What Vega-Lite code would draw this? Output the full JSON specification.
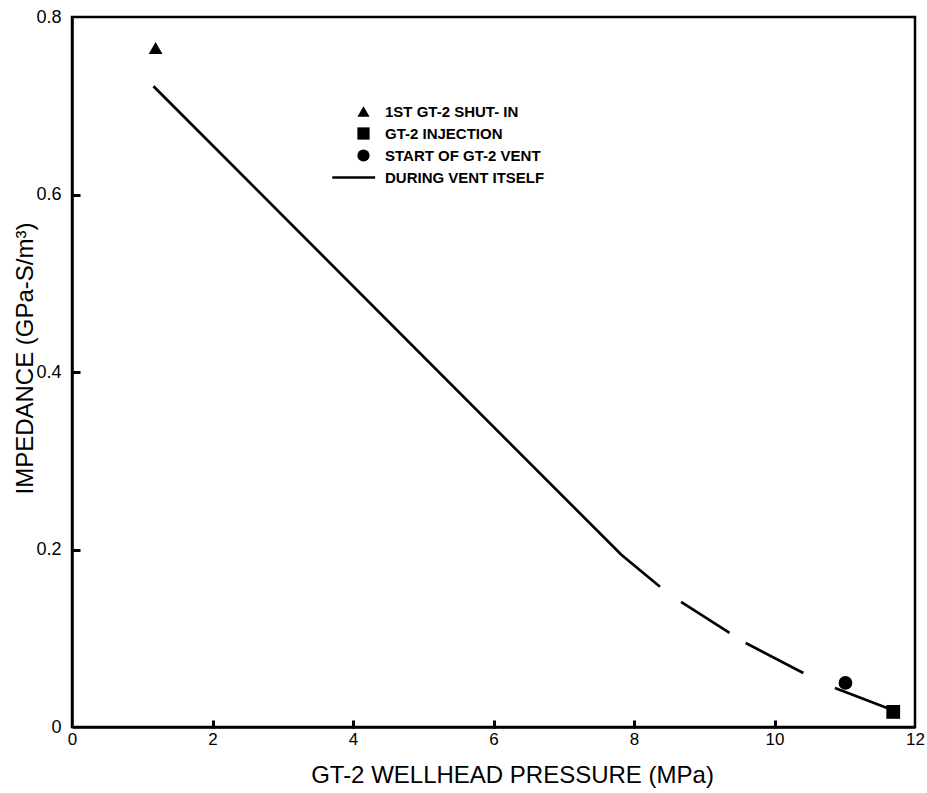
{
  "$schema": "https://vega.github.io/schema/vega-lite/v6.json",
  "width": 843,
  "height": 710,
  "autosize": {"type": "none"},
  "padding": {"left": 72, "top": 17, "right": 12, "bottom": 66},
  "background": "white",
  "config": {
    "font": "Liberation Sans",
    "view": {"stroke": "black", "strokeWidth": 2.5},
    "axis": {"grid": false, "domainColor": "black", "domainWidth": 2.5, "tickColor": "black", "tickWidth": 2.5, "labelColor": "black", "titleColor": "black", "labelFont": "Liberation Sans", "titleFont": "Liberation Sans", "titleFontWeight": "normal"}
  },
  "datasets": {
    "vent": [
      {"pressure": 1.16, "impedance": 0.722, "seg": 1},
      {"pressure": 7.82, "impedance": 0.194, "seg": 1},
      {"pressure": 8.37, "impedance": 0.158, "seg": 1},
      {"pressure": 8.67, "impedance": 0.141, "seg": 2},
      {"pressure": 9.36, "impedance": 0.106, "seg": 2},
      {"pressure": 9.59, "impedance": 0.0946, "seg": 3},
      {"pressure": 10.41, "impedance": 0.0608, "seg": 3},
      {"pressure": 10.86, "impedance": 0.044, "seg": 4},
      {"pressure": 11.65, "impedance": 0.02, "seg": 4}
    ],
    "events": [
      {"pressure": 1.19, "impedance": 0.765, "event": "1ST GT-2 SHUT- IN"},
      {"pressure": 11.69, "impedance": 0.017, "event": "GT-2 INJECTION"},
      {"pressure": 11.01, "impedance": 0.0496, "event": "START OF GT-2 VENT"}
    ]
  },
  "resolve": {"axis": {"x": "independent", "y": "independent"}},
  "layer": [
    {
      "data": {"name": "vent"},
      "mark": {"type": "line", "color": "black", "strokeWidth": 2.7},
      "encoding": {
        "x": {"field": "pressure", "type": "quantitative", "scale": {"domain": [0, 12], "nice": false},
          "axis": {"orient": "bottom", "values": [0, 2, 4, 6, 8, 10, 12], "format": "d", "labelFontSize": 17, "tickSize": 0, "labelPadding": 4, "labelFlush": false,
            "title": "GT-2 WELLHEAD PRESSURE (MPa)", "titleFontSize": 24, "titleX": 440, "titleY": 48, "titleBaseline": "middle", "titleAnchor": "middle"}},
        "y": {"field": "impedance", "type": "quantitative", "scale": {"domain": [0, 0.8], "nice": false},
          "axis": {"orient": "left", "values": [0, 0.2, 0.4, 0.6, 0.8], "labelExpr": "datum.value == 0 ? '0' : format(datum.value, '.1f')", "labelFontSize": 18, "tickSize": 0, "labelPadding": 11, "labelFlush": false,
            "title": "IMPEDANCE (GPa-S/m³)", "titleFontSize": 24, "titleX": -47, "titleY": 341, "titleBaseline": "middle", "titleAngle": -90}},
        "detail": {"field": "seg", "type": "nominal"}
      }
    },
    {
      "data": {"name": "events"},
      "mark": {"type": "point", "filled": true, "color": "black", "opacity": 1, "size": 190},
      "encoding": {
        "x": {"field": "pressure", "type": "quantitative",
          "axis": {"orient": "bottom", "offset": -7, "values": [2, 4, 6, 8, 10], "domain": true, "domainOpacity": 0, "labels": false, "title": null, "ticks": true, "tickSize": 8, "tickWidth": 3, "tickColor": "black"}},
        "y": {"field": "impedance", "type": "quantitative",
          "axis": {"orient": "left", "offset": -8, "values": [0.2, 0.4, 0.6], "domain": true, "domainOpacity": 0, "labels": false, "title": null, "ticks": true, "tickSize": 9, "tickWidth": 3, "tickColor": "black"}},
        "shape": {"field": "event", "type": "nominal",
          "scale": {"domain": ["1ST GT-2 SHUT- IN", "GT-2 INJECTION", "START OF GT-2 VENT", "DURING VENT ITSELF"],
                    "range": ["triangle-up", "square", "circle", "M-5.1,-0.22H1.9V0.22H-5.1Z"]},
          "legend": {"title": null, "orient": "none", "legendX": 284, "legendY": 87, "symbolSize": 150, "symbolFillColor": "black", "symbolStrokeWidth": 0, "labelFontSize": 15, "labelFontWeight": "bold", "labelOffset": 14, "rowPadding": 6, "padding": 0, "symbolOpacity": 1}
        }
      }
    }
  ]
}
